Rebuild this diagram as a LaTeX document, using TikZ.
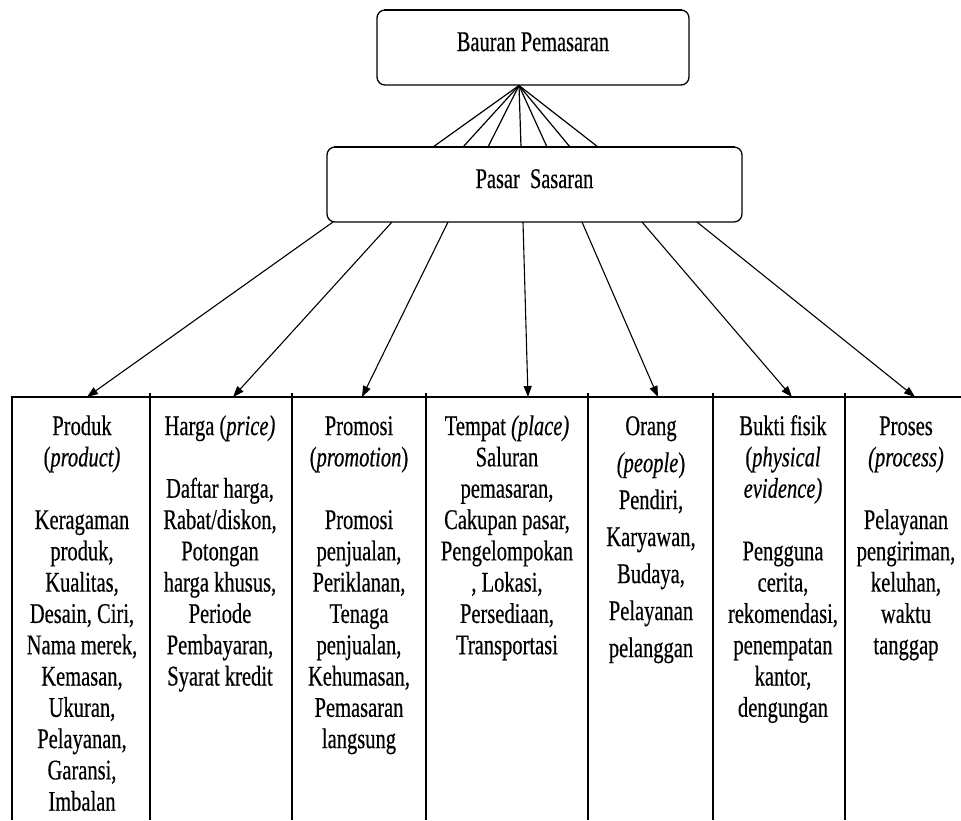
\documentclass[tikz,border=0pt]{standalone}
\usepackage{fontspec}
\setmainfont{Liberation Serif}
\newfontfamily\colfont{Liberation Serif}[FakeStretch=0.72,FakeBold=0.4]
\newfontfamily\boxfont{Liberation Serif}[FakeStretch=0.715,FakeBold=0.4]
\usetikzlibrary{arrows.meta}
\begin{document}
\begin{tikzpicture}[x=1pt,y=-1pt,
  box/.style={draw,line width=1.3pt,rounded corners=8pt,inner sep=0pt,
    font=\boxfont\fontsize{28.5}{32}\selectfont,text height=20pt,text depth=13pt},
  topedge/.style={line width=2.4pt},
  fan/.style={line width=1.2pt},
  arr/.style={line width=1.1pt,-{Triangle[length=11pt,width=8pt]}},
  thin/.style={line width=1.1pt},
  thick/.style={line width=2pt},
  coltext/.style={anchor=north,inner sep=0pt,align=center,
    font=\colfont\fontsize{28.5}{31.3}\selectfont},
  coltextwide/.style={anchor=north,inner sep=0pt,align=center,
    font=\colfont\fontsize{28.5}{37}\selectfont},
]
\useasboundingbox (0,0) rectangle (961,820);
\fill[white] (0,0) rectangle (961,820);

% top boxes
\node[box,minimum width=312pt,minimum height=75pt] (bauran) at (533,47.5) {Bauran Pemasaran};
\node[box,minimum width=415pt,minimum height=75pt] (pasar) at (534.5,184.5) {Pasar~ Sasaran};
\draw[topedge] ([xshift=8pt,yshift=-0.8pt]bauran.north west) -- ([xshift=-8pt,yshift=-0.8pt]bauran.north east);
\draw[topedge] ([xshift=8pt,yshift=-0.8pt]pasar.north west) -- ([xshift=-8pt,yshift=-0.8pt]pasar.north east);

% fan between the boxes
\coordinate (apex) at (519,85.5);
\foreach \x [count=\i] in {433,463,488,521,547,570,598} {
  \coordinate (f\i) at (\x,147);
  \draw[fan] (apex) -- (f\i);
}

% column grid
\draw[thin] (12,397) -- (961,397);
\draw[thick] (12,396) -- (12,820);
\foreach \x in {150,292,426,588} { \draw[thin] (\x,393) -- (\x,820); }
\foreach \x in {713,845} { \draw[thick] (\x,393) -- (\x,820); }
\draw[line width=2.2pt] (845,397) -- (858,397);

% arrows to columns
\foreach \sx/\tx [count=\i] in {333/87,392/233,448/362,523/528,582/658,642/792,697/915} {
  \coordinate (s\i) at (\sx,222);
  \coordinate (t\i) at (\tx,397);
  \draw[arr] (s\i) -- (t\i);
}

% column texts
\node[coltext] (c1) at (82,413) {\strut Produk\\(\textit{product)}\\\strut\\Keragaman\\produk,\\Kualitas,\\Desain, Ciri,\\Nama merek,\\Kemasan,\\Ukuran,\\Pelayanan,\\Garansi,\\Imbalan};
\node[coltext] (c2) at (220,413) {\strut Harga (\textit{price)}\\\strut\\Daftar harga,\\Rabat/diskon,\\Potongan\\harga khusus,\\Periode\\Pembayaran,\\Syarat kredit};
\node[coltext] (c3) at (359,413) {\strut Promosi\\(\textit{promotion})\\\strut\\Promosi\\penjualan,\\Periklanan,\\Tenaga\\penjualan,\\Kehumasan,\\Pemasaran\\langsung};
\node[coltext] (c4) at (507,413) {\strut Tempat \textit{(place)}\\Saluran\\pemasaran,\\Cakupan pasar,\\Pengelompokan\\, Lokasi,\\Persediaan,\\Transportasi};
\node[coltextwide] (c5) at (651,409) {\strut Orang\\\textit{(people})\\Pendiri,\\Karyawan,\\Budaya,\\Pelayanan\\pelanggan};
\node[coltext] (c6) at (783,413) {\strut Bukti fisik\\(\textit{physical}\\\textit{evidence)}\\\strut\\Pengguna\\cerita,\\rekomendasi,\\penempatan\\kantor,\\dengungan};
\node[coltext] (c7) at (906,413) {\strut Proses\\\textit{(process)}\\\strut\\Pelayanan\\pengiriman,\\keluhan,\\waktu\\tanggap};
\end{tikzpicture}
\end{document}
